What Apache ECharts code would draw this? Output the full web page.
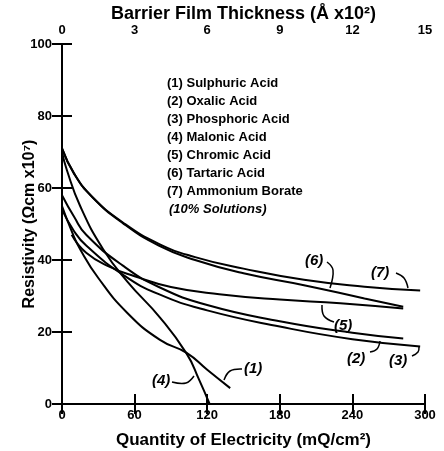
<!DOCTYPE html>
<html><head><meta charset="utf-8">
<script src="https://cdn.jsdelivr.net/npm/echarts@6/dist/echarts.min.js"></script>
<style>html,body{margin:0;padding:0;background:#fff}#c{width:444px;height:451px}</style>
</head><body><div id="c"></div>
<script>
// Tick labels
var bottomTicks = [0, 60, 120, 180, 240, 300];
var topTicks = [0, 3, 6, 9, 12, 15];
var leftTicks = [0, 20, 40, 60, 80, 100];
// Series: [quantity of electricity (mQ/cm2), resistivity (ohm cm x10^7)]
var s1_sulphuric = [[0,55],[8,48],[15,43],[30,35],[54,25.3],[81,17.8],[103,14.2],[120,9.5],[139,4.4]];
var s2_oxalic = [[0,58],[10,52],[20,47],[50,38.5],[80,32.5],[120,27.5],[180,23],[240,19.8],[282,18.2]];
var s3_phosphoric = [[0,54],[10,48],[20,44],[50,36],[80,30.5],[120,26],[180,21.5],[240,18],[296,16]];
var s4_malonic = [[0,70],[4,65],[15,55],[34,43],[54,34],[81,24],[103,14],[113,7],[122,0]];
var s5_chromic = [[8,47],[20,42],[40,38],[60,35.5],[90,32.5],[130,30.5],[180,29],[230,28],[282,26.5]];
var s6_tartaric = [[0,71],[10,64],[25,57.5],[50,50.3],[80,44],[110,40],[150,36.3],[200,33],[250,29.3],[282,27]];
var s7_borate = [[0,71],[10,64],[25,57.5],[50,50.5],[80,44.5],[110,40.8],[150,37.6],[200,34.5],[250,32.6],[296,31.5]];
var legendLines = ['(1) Sulphuric Acid','(2) Oxalic Acid','(3) Phosphoric Acid','(4) Malonic Acid','(5) Chromic Acid','(6) Tartaric Acid','(7) Ammonium Borate'];
var legendNote = '(10% Solutions)';

var chart = echarts.init(document.getElementById('c'));
var F = 'Liberation Sans';
function ln(d){return {type:'line',data:d,smooth:0.5,symbol:'none',lineStyle:{color:'#000',width:2},xAxisIndex:0,yAxisIndex:0};}
var axisLine = {show:true,lineStyle:{color:'#000',width:2}};
var tick = {show:true,inside:true,length:10,lineStyle:{color:'#000',width:2}};
var option = {
  animation:false,
  grid:{left:62,right:19,top:44,bottom:47,containLabel:false,outerBoundsMode:'none'},
  xAxis:[
    {type:'value',min:0,max:300,interval:60,position:'bottom',axisLine:axisLine,axisTick:tick,
     axisLabel:{color:'#000',fontFamily:F,fontWeight:'bold',fontSize:13,margin:5},splitLine:{show:false},
     name:'Quantity of Electricity (mQ/cm²)',nameLocation:'middle',nameGap:28,nameMoveOverlap:false,
     nameTextStyle:{color:'#000',fontFamily:F,fontWeight:'bold',fontSize:17}},
    {type:'value',min:0,max:15,interval:3,position:'top',axisLine:axisLine,axisTick:tick,
     axisLabel:{color:'#000',fontFamily:F,fontWeight:'bold',fontSize:13,margin:7},splitLine:{show:false},
     name:'Barrier Film Thickness (Å x10²)',nameLocation:'middle',nameGap:21,nameMoveOverlap:false,
     nameTextStyle:{color:'#000',fontFamily:F,fontWeight:'bold',fontSize:18}}
  ],
  yAxis:[
    {type:'value',min:0,max:100,interval:20,position:'left',axisLine:axisLine,axisTick:tick,
     axisLabel:{color:'#000',fontFamily:F,fontWeight:'bold',fontSize:13,margin:10,padding:[6,0,0,0]},splitLine:{show:false},
     name:'Resistivity (Ωcm x10⁷)',nameLocation:'middle',nameGap:24,nameMoveOverlap:false,
     nameTextStyle:{color:'#000',fontFamily:F,fontWeight:'bold',fontSize:16}},
    {type:'value',min:0,max:100,interval:20,position:'right',axisLine:axisLine,axisTick:tick,
     axisLabel:{show:false},splitLine:{show:false}}
  ],
  series:[ln(s1_sulphuric),ln(s2_oxalic),ln(s3_phosphoric),ln(s4_malonic),ln(s5_chromic),ln(s6_tartaric),ln(s7_borate)]
};
chart.setOption(option);
var g = [];
legendLines.forEach(function(t,i){
  g.push({type:'text',left:167,top:77+i*18,style:{text:t,fill:'#000',font:'bold 13px '+F}});
});
g.push({type:'text',left:169,top:77+7*18,style:{text:legendNote,fill:'#000',font:'italic bold 13px '+F}});
// curve annotations: label text + hooked leader (pixel offsets)
var labs = [
  ['(6)',305,253,[[327,262],[333,270],[330,288]]],
  ['(7)',371,265,[[396,273],[404,278],[408,288]]],
  ['(5)',334,318,[[334,322],[324,316],[322,305]]],
  ['(2)',347,351,[[370,352],[377,349],[380,341]]],
  ['(3)',389,353,[[412,356],[418,352],[419,347]]],
  ['(4)',152,373,[[172,382],[186,383],[194,376]]],
  ['(1)',244,361,[[242,369],[230,371],[224,380]]]
];
labs.forEach(function(l){
  g.push({type:'text',x:l[1],y:l[2],style:{text:l[0],fill:'#000',font:'italic bold 15px '+F}});
  g.push({type:'polyline',shape:{points:l[3],smooth:0.4},style:{stroke:'#000',lineWidth:1.5,fill:null}});
});
chart.setOption({graphic:g});
</script></body></html>
